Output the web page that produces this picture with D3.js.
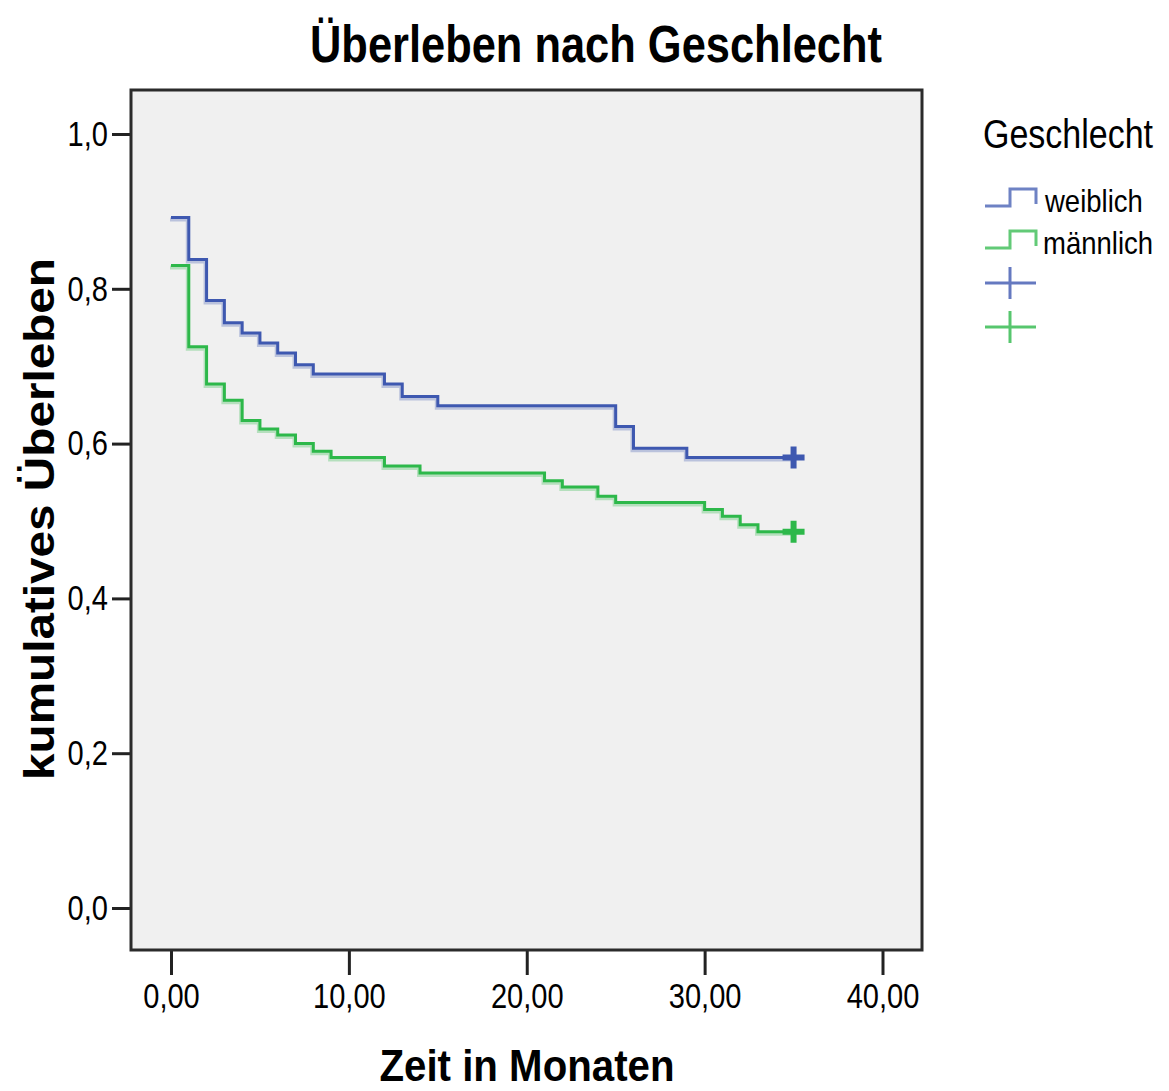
<!DOCTYPE html>
<html lang="de">
  <head>
    <meta charset="utf-8">
    <title>Überleben nach Geschlecht</title>
    <script src="https://cdn.jsdelivr.net/npm/d3@7/dist/d3.min.js"></script>
    <style>
      body { margin: 0; background: #fff; }
      text { font-family: "Liberation Sans", Arial, sans-serif; fill: #000; }
      .tick line { stroke: #222; stroke-width: 3; }
      .tick text { font-size: 35px; }
    </style>
  </head>
  <body>
    <script>
    // Kaplan-Meier Schätzer
    var weiblichZeit = [0, 1, 2, 3, 4, 5, 6, 7, 8, 12, 13, 15, 25, 26, 29, 35];
    var weiblichWert = [0.892, 0.838, 0.785, 0.756, 0.743, 0.730, 0.717, 0.702, 0.690, 0.677, 0.661, 0.649, 0.622, 0.594, 0.582, 0.582];

    var maennlichZeit = [0, 1, 2, 3, 4, 5, 6, 7, 8, 9, 12, 14, 21, 22, 24, 25, 30, 31, 32, 33, 35];
    var maennlichWert = [0.830, 0.725, 0.677, 0.656, 0.630, 0.619, 0.611, 0.600, 0.590, 0.582, 0.571, 0.562, 0.552, 0.544, 0.532, 0.524, 0.515, 0.506, 0.495, 0.486, 0.486];

    // zensierte Fälle (letzte Beobachtung)
    var zensiertWeiblich = [35];
    var zensiertMaennlich = [35];

    var xTicks = [0, 10, 20, 30, 40];
    var yTicks = [0, 0.2, 0.4, 0.6, 0.8, 1.0];

    var gruppen = ["weiblich", "männlich"];
    var farben = ["#3e58b0", "#2db84a"];

    var w = 1169;
    var h = 1091;

    var svg = d3.select("body")
                .append("svg")
                .attr("width", w)
                .attr("height", h);

    // Plotbereich
    var plot = { left: 131, right: 922, top: 90, bottom: 950 };

    var xScale = d3.scaleLinear()
                   .domain([0, 40])
                   .range([171, 882.5]);
    var yScale = d3.scaleLinear()
                   .domain([0, 1])
                   .range([908, 134]);

    svg.append("rect")
       .attr("x", plot.left)
       .attr("y", plot.top)
       .attr("width", plot.right - plot.left)
       .attr("height", plot.bottom - plot.top)
       .attr("fill", "#f0f0f0");

    // helper: condense text like the stretched original
    var squeeze = function(sel, factor) {
      sel.each(function() {
        var len = this.getComputedTextLength();
        d3.select(this)
          .attr("textLength", len * factor)
          .attr("lengthAdjust", "spacingAndGlyphs");
      });
    };

    var komma = function(fmt) {
      return function(d) { return d3.format(fmt)(d).replace(".", ","); };
    };

    var xAxis = d3.axisBottom(xScale)
                  .tickValues(xTicks)
                  .tickSize(25)
                  .tickPadding(8)
                  .tickFormat(komma(".2f"));
    var yAxis = d3.axisLeft(yScale)
                  .tickValues(yTicks)
                  .tickSize(18)
                  .tickPadding(4)
                  .tickFormat(komma(".1f"));

    var gx = svg.append("g")
       .attr("transform", "translate(0," + plot.bottom + ")")
       .call(xAxis);
    gx.select(".domain").remove();
    gx.selectAll("text").attr("font-family", null).attr("font-size", null);
    squeeze(gx.selectAll("text"), 0.83);

    var gy = svg.append("g")
       .attr("transform", "translate(" + (plot.left - 1) + ",0)")
       .call(yAxis);
    gy.select(".domain").remove();
    gy.selectAll("text").attr("font-family", null).attr("font-size", null);
    squeeze(gy.selectAll("text"), 0.83);

    // Kurven
    var line = d3.line()
                 .x(function(d) { return xScale(d[0]); })
                 .y(function(d) { return yScale(d[1]); })
                 .curve(d3.curveStepAfter);

    var serien = [
      { zeit: weiblichZeit, wert: weiblichWert, zens: zensiertWeiblich },
      { zeit: maennlichZeit, wert: maennlichWert, zens: zensiertMaennlich }
    ];

    serien.forEach(function(s, i) {
      var pts = d3.zip(s.zeit, s.wert);
      // blurred shadow of the original rendering
      svg.append("path")
         .attr("d", line(pts))
         .attr("fill", "none")
         .attr("stroke", farben[i])
         .attr("stroke-opacity", 0.3)
         .attr("stroke-width", 4)
         .attr("transform", "translate(-1,2)");
      svg.append("path")
         .attr("d", line(pts))
         .attr("fill", "none")
         .attr("stroke", farben[i])
         .attr("stroke-width", 3);

      s.zens.forEach(function(t) {
        var v = s.wert[s.zeit.indexOf(t)];
        var cx = xScale(t), cy = yScale(v);
        svg.append("path")
           .attr("d", "M" + (cx - 11) + "," + cy + "H" + (cx + 11) +
                      "M" + cx + "," + (cy - 11) + "V" + (cy + 11))
           .attr("stroke", farben[i])
           .attr("stroke-width", 6)
           .attr("fill", "none");
      });
    });

    // Rahmen
    svg.append("rect")
       .attr("x", plot.left)
       .attr("y", plot.top)
       .attr("width", plot.right - plot.left)
       .attr("height", plot.bottom - plot.top)
       .attr("fill", "none")
       .attr("stroke", "#2b2b2b")
       .attr("stroke-width", 3);

    // Titel und Achsenbeschriftungen
    svg.append("text")
       .attr("x", 596)
       .attr("y", 62)
       .attr("text-anchor", "middle")
       .attr("font-size", 52)
       .attr("font-weight", "bold")
       .attr("textLength", 572)
       .attr("lengthAdjust", "spacingAndGlyphs")
       .text("Überleben nach Geschlecht");

    svg.append("text")
       .attr("x", 527)
       .attr("y", 1081)
       .attr("text-anchor", "middle")
       .attr("font-size", 44)
       .attr("font-weight", "bold")
       .attr("textLength", 295)
       .attr("lengthAdjust", "spacingAndGlyphs")
       .text("Zeit in Monaten");

    svg.append("text")
       .attr("transform", "translate(54,519) rotate(-90)")
       .attr("text-anchor", "middle")
       .attr("font-size", 42)
       .attr("font-weight", "bold")
       .attr("textLength", 522)
       .attr("lengthAdjust", "spacingAndGlyphs")
       .text("kumulatives Überleben");

    // Legende (Schrift schmal, vertikal gestreckt)
    var legend = svg.append("g").attr("transform", "translate(983,0)");
    legend.append("text")
          .attr("transform", "translate(0,148) scale(1,1.17)")
          .attr("font-size", 34)
          .text("Geschlecht");

    var legY = [206, 248];
    gruppen.forEach(function(g, i) {
      var y0 = legY[i];
      legend.append("path")
            .attr("d", "M2," + y0 + "H27V" + (y0 - 17) + "H53V" + (y0 - 2))
            .attr("fill", "none")
            .attr("stroke", farben[i])
            .attr("stroke-opacity", 0.75)
            .attr("stroke-width", 3);
      legend.append("text")
            .attr("transform", "translate(" + (i === 0 ? 62 : 60) + "," + (y0 + 6) + ") scale(1,1.15)")
            .attr("font-size", 27.5)
            .text(g);
    });

    var plusY = [283, 327];
    plusY.forEach(function(y0, i) {
      legend.append("path")
            .attr("d", "M2," + y0 + "H53M27," + (y0 - 16) + "V" + (y0 + 16))
            .attr("fill", "none")
            .attr("stroke", farben[i])
            .attr("stroke-opacity", 0.8)
            .attr("stroke-width", 3);
    });
    </script>
  </body>
</html>
